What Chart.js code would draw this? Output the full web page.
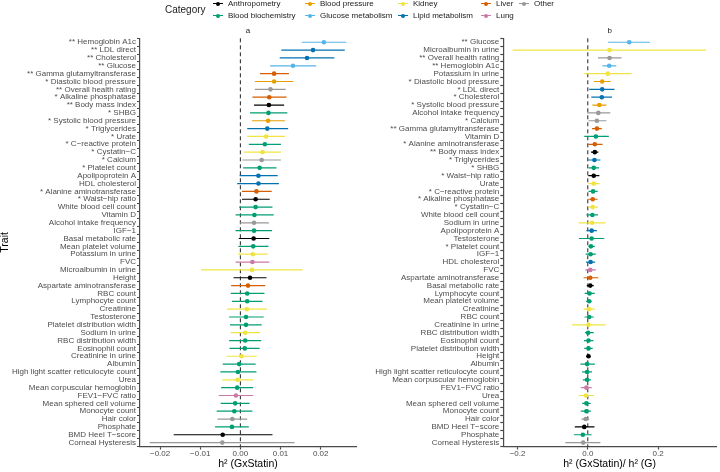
<!DOCTYPE html>
<html>
<head>
<meta charset="utf-8">
<script src="https://cdn.jsdelivr.net/npm/chart.js@4.4.1/dist/chart.umd.min.js"></script>
<style>
  body { margin: 0; background: #fff; font-family: "Liberation Sans", Arial, sans-serif; }
  #wrap { position: relative; width: 720px; height: 472px; overflow: hidden; }
  .panel { position: absolute; top: 0; width: 360px; height: 472px; }
  #legend { position: absolute; left: 0; top: -2.5px; width: 720px; height: 24px; z-index: 2; color: #1a1a1a; }
  #legend .title { position: absolute; left: 165px; top: 5px; font-size: 10px; line-height: 14px; }
  #legend .col { position: absolute; top: 0; display: flex; flex-direction: column; }
  #legend .item { display: flex; align-items: center; height: 12px; font-size: 8px; white-space: nowrap; }
  #legend .key { position: relative; width: 10px; height: 12px; margin-right: 5px; }
  #legend .key .ln { position: absolute; left: 0; right: 0; top: 5.5px; height: 1px; }
  #legend .key .pt { position: absolute; left: 3px; top: 4px; width: 4px; height: 4px; border-radius: 50%; }
</style>
</head>
<body>
<div id="wrap">
  <div id="legend"></div>
  <div class="panel" style="left:0"><canvas id="chartA" width="360" height="472"></canvas></div>
  <div class="panel" style="left:360px"><canvas id="chartB" width="360" height="472"></canvas></div>
</div>
<script>
const categories = ["Anthropometry", "Blood biochemistry", "Blood pressure", "Glucose metabolism",
  "Kidney", "Lipid metabolism", "Liver", "Lung", "Other"];
const categoryColors = ["#000000", "#009E73", "#E69F00", "#56B4E9",
  "#F0E442", "#0072B2", "#D55E00", "#CC79A7", "#999999"];

// panel a: h2 (GxStatin)
const traitsA = ["** Hemoglobin A1c", "** LDL direct", "** Cholesterol", "** Glucose",
  "** Gamma glutamyltransferase", "* Diastolic blood pressure", "** Overall health rating",
  "* Alkaline phosphatase", "** Body mass index", "* SHBG", "* Systolic blood pressure",
  "* Triglycerides", "* Urate", "* C\u2212reactive protein", "* Cystatin\u2212C", "* Calcium",
  "* Platelet count", "Apolipoprotein A", "HDL cholesterol", "* Alanine aminotransferase",
  "* Waist\u2212hip ratio", "White blood cell count", "Vitamin D", "Alcohol intake frequency",
  "IGF\u22121", "Basal metabolic rate", "Mean platelet volume", "Potassium in urine", "FVC",
  "Microalbumin in urine", "Height", "Aspartate aminotransferase", "RBC count",
  "Lymphocyte count", "Creatinine", "Testosterone", "Platelet distribution width",
  "Sodium in urine", "RBC distribution width", "Eosinophil count", "Creatinine in urine",
  "Albumin", "High light scatter reticulocyte count", "Urea", "Mean corpuscular hemoglobin",
  "FEV1\u2212FVC ratio", "Mean sphered cell volume", "Monocyte count", "Hair color",
  "Phosphate", "BMD Heel T\u2212score", "Corneal Hysteresis"];
const catA = ["Glucose metabolism", "Lipid metabolism", "Lipid metabolism", "Glucose metabolism",
  "Liver", "Blood pressure", "Other", "Liver", "Anthropometry", "Blood biochemistry",
  "Blood pressure", "Lipid metabolism", "Kidney", "Blood biochemistry", "Kidney", "Other",
  "Blood biochemistry", "Lipid metabolism", "Lipid metabolism", "Liver", "Anthropometry",
  "Blood biochemistry", "Blood biochemistry", "Other", "Blood biochemistry", "Anthropometry",
  "Blood biochemistry", "Kidney", "Lung", "Kidney", "Anthropometry", "Liver",
  "Blood biochemistry", "Blood biochemistry", "Kidney", "Blood biochemistry",
  "Blood biochemistry", "Kidney", "Blood biochemistry", "Blood biochemistry", "Kidney",
  "Blood biochemistry", "Blood biochemistry", "Kidney", "Blood biochemistry", "Lung",
  "Blood biochemistry", "Blood biochemistry", "Other", "Blood biochemistry", "Anthropometry",
  "Other"];
const estA = [0.0208, 0.0181, 0.0166, 0.0131, 0.0084, 0.0084, 0.0075, 0.0072, 0.0071, 0.0070,
  0.0069, 0.0067, 0.0064, 0.0061, 0.0055, 0.0053, 0.0048, 0.0045, 0.0045, 0.0040, 0.0038,
  0.0038, 0.0035, 0.0034, 0.0034, 0.0033, 0.0032, 0.0031, 0.0030, 0.0029, 0.0024, 0.0019,
  0.0017, 0.0017, 0.0016, 0.0014, 0.0014, 0.0012, 0.0012, 0.0011, 0.0003, -0.0003, -0.0006,
  -0.0007, -0.0008, -0.0011, -0.0013, -0.0015, -0.0020, -0.0021, -0.0044, -0.0045];
const loA = [0.0153, 0.0102, 0.0098, 0.0074, 0.0049, 0.0036, 0.0036, 0.0030, 0.0034, 0.0024,
  0.0029, 0.0017, 0.0017, 0.0021, 0.0008, 0.0005, 0.0007, -0.0002, -0.0008, 0.0004, 0.0004,
  -0.0003, -0.0012, -0.0001, -0.0012, -0.0004, -0.0005, -0.0006, -0.0012, -0.0098, -0.0017,
  -0.0023, -0.0024, -0.0021, -0.0033, -0.0028, -0.0026, -0.0024, -0.0028, -0.0027, -0.0034,
  -0.0044, -0.0050, -0.0045, -0.0048, -0.0054, -0.0049, -0.0059, -0.0057, -0.0063, -0.0166,
  -0.0226];
const hiA = [0.0264, 0.0260, 0.0234, 0.0189, 0.0121, 0.0132, 0.0113, 0.0115, 0.0109, 0.0117,
  0.0111, 0.0119, 0.0111, 0.0101, 0.0101, 0.0101, 0.0090, 0.0093, 0.0096, 0.0078, 0.0073,
  0.0080, 0.0083, 0.0071, 0.0079, 0.0072, 0.0070, 0.0068, 0.0072, 0.0155, 0.0065, 0.0062,
  0.0060, 0.0055, 0.0066, 0.0058, 0.0053, 0.0049, 0.0052, 0.0048, 0.0041, 0.0038, 0.0040,
  0.0032, 0.0032, 0.0032, 0.0023, 0.0030, 0.0017, 0.0021, 0.0080, 0.0135];

// panel b: h2 (GxStatin) / h2 (G)
const traitsB = ["** Glucose", "Microalbumin in urine", "** Overall health rating",
  "** Hemoglobin A1c", "Potassium in urine", "* Diastolic blood pressure", "* LDL direct",
  "* Cholesterol", "* Systolic blood pressure", "Alcohol intake frequency", "* Calcium",
  "** Gamma glutamyltransferase", "Vitamin D", "* Alanine aminotransferase",
  "** Body mass index", "* Triglycerides", "* SHBG", "* Waist\u2212hip ratio", "Urate",
  "* C\u2212reactive protein", "* Alkaline phosphatase", "* Cystatin\u2212C",
  "White blood cell count", "Sodium in urine", "Apolipoprotein A", "Testosterone",
  "* Platelet count", "IGF\u22121", "HDL cholesterol", "FVC", "Aspartate aminotransferase",
  "Basal metabolic rate", "Lymphocyte count", "Mean platelet volume", "Creatinine",
  "RBC count", "Creatinine in urine", "RBC distribution width", "Eosinophil count",
  "Platelet distribution width", "Height", "Albumin", "High light scatter reticulocyte count",
  "Mean corpuscular hemoglobin", "FEV1\u2212FVC ratio", "Urea", "Mean sphered cell volume",
  "Monocyte count", "Hair color", "BMD Heel T\u2212score", "Phosphate", "Corneal Hysteresis"];
const catB = ["Glucose metabolism", "Kidney", "Other", "Glucose metabolism", "Kidney",
  "Blood pressure", "Lipid metabolism", "Lipid metabolism", "Blood pressure", "Other", "Other",
  "Liver", "Blood biochemistry", "Liver", "Anthropometry", "Lipid metabolism",
  "Blood biochemistry", "Anthropometry", "Kidney", "Blood biochemistry", "Liver", "Kidney",
  "Blood biochemistry", "Kidney", "Lipid metabolism", "Blood biochemistry",
  "Blood biochemistry", "Blood biochemistry", "Lipid metabolism", "Lung", "Liver",
  "Anthropometry", "Blood biochemistry", "Blood biochemistry", "Kidney", "Blood biochemistry",
  "Kidney", "Blood biochemistry", "Blood biochemistry", "Blood biochemistry", "Anthropometry",
  "Blood biochemistry", "Blood biochemistry", "Blood biochemistry", "Lung", "Kidney",
  "Blood biochemistry", "Blood biochemistry", "Other", "Anthropometry", "Blood biochemistry",
  "Other"];
const estB = [0.118, 0.062, 0.062, 0.061, 0.057, 0.041, 0.041, 0.040, 0.033, 0.030, 0.026,
  0.026, 0.023, 0.020, 0.020, 0.019, 0.017, 0.017, 0.017, 0.015, 0.014, 0.014, 0.013, 0.012,
  0.011, 0.011, 0.009, 0.008, 0.008, 0.007, 0.007, 0.007, 0.005, 0.004, 0.003, 0.004, 0.002,
  0.001, 0.002, 0.002, 0.002, -0.002, -0.002, -0.002, -0.004, -0.005, -0.004, -0.004, -0.006,
  -0.010, -0.014, -0.013];
const loB = [0.058, -0.214, 0.029, 0.042, -0.010, 0.017, 0.004, 0.010, 0.013, -0.002, 0.002,
  0.012, -0.010, 0.000, 0.009, 0.001, 0.002, 0.000, 0.000, 0.002, 0.000, 0.000, -0.004, -0.026,
  -0.004, -0.025, 0.000, -0.006, -0.005, -0.007, -0.012, -0.003, -0.009, -0.005, -0.012,
  -0.009, -0.045, -0.008, -0.011, -0.010, -0.004, -0.021, -0.016, -0.014, -0.020, -0.026,
  -0.016, -0.020, -0.018, -0.037, -0.039, -0.064];
const hiB = [0.177, 0.337, 0.096, 0.081, 0.125, 0.065, 0.076, 0.069, 0.053, 0.064, 0.053,
  0.040, 0.060, 0.042, 0.030, 0.036, 0.032, 0.033, 0.034, 0.028, 0.028, 0.029, 0.029, 0.051,
  0.026, 0.047, 0.020, 0.023, 0.021, 0.023, 0.030, 0.017, 0.020, 0.011, 0.020, 0.017, 0.051,
  0.017, 0.016, 0.014, 0.008, 0.020, 0.012, 0.009, 0.011, 0.018, 0.008, 0.009, 0.004, 0.019,
  0.011, 0.036];

Chart.defaults.font.family = "'Liberation Sans', Arial, sans-serif";

const AXIS_COLOR = "#4a4a4a";
const TICK_COLOR = "#4D4D4D";

// dashed line at zero and the small panel letter
const panelDecor = {
  id: "panelDecor",
  beforeDatasetsDraw(chart) {
    const { ctx, chartArea, scales } = chart;
    const x = scales.x.getPixelForValue(0);
    ctx.save();
    ctx.strokeStyle = "#222";
    ctx.lineWidth = 1;
    ctx.setLineDash([4, 3]);
    ctx.beginPath();
    ctx.moveTo(x, chartArea.top);
    ctx.lineTo(x, chartArea.bottom);
    ctx.stroke();
    ctx.restore();
  },
  afterDraw(chart, args, opts) {
    const { ctx, chartArea } = chart;
    ctx.save();
    ctx.fillStyle = "#1a1a1a";
    ctx.font = "8px 'Liberation Sans', Arial, sans-serif";
    ctx.textAlign = "center";
    ctx.textBaseline = "middle";
    ctx.fillText(opts.letter, (chartArea.left + chartArea.right) / 2, 31);
    ctx.restore();
  },
};

function makePanel(canvasId, traits, cats, est, lo, hi, cfg) {
  const colors = cats.map((c) => categoryColors[categories.indexOf(c)]);
  const fmt = (v) => (v < -1e-9 ? "\u2212" : "") + Math.abs(v).toFixed(cfg.digits);
  return new Chart(document.getElementById(canvasId), {
    type: "bar",
    data: {
      labels: traits,
      datasets: [
        {
          type: "line",
          indexAxis: "y",
          data: est,
          showLine: false,
          pointRadius: 2.3,
          pointBorderWidth: 0,
          pointBackgroundColor: colors,
          pointBorderColor: colors,
        },
        {
          type: "bar",
          indexAxis: "y",
          data: lo.map((v, i) => [v, hi[i]]),
          backgroundColor: colors,
          barThickness: 1.2,
          inflateAmount: 0,
          borderWidth: 0,
        },
      ],
    },
    options: {
      indexAxis: "y",
      responsive: false,
      animation: false,
      events: [],
      layout: { padding: { top: 38.3, right: cfg.padRight, bottom: 0, left: 0 } },
      plugins: {
        legend: { display: false },
        tooltip: { enabled: false },
        panelDecor: { letter: cfg.letter },
      },
      scales: {
        x: {
          type: "linear",
          min: cfg.min,
          max: cfg.max,
          afterFit(scale) { scale.height = 25.5; },
          border: { color: AXIS_COLOR, width: 1.2 },
          grid: { drawOnChartArea: false, tickLength: 3, color: AXIS_COLOR, tickWidth: 1.2 },
          ticks: {
            stepSize: cfg.step,
            includeBounds: false,
            maxRotation: 0,
            padding: 0,
            color: TICK_COLOR,
            font: { size: 8, lineHeight: 1 },
            callback: fmt,
          },
          title: {
            display: true,
            text: cfg.xTitle,
            color: "#000",
            font: { size: 10.5 },
            padding: { top: 0, bottom: 2 },
          },
        },
        y: {
          type: "category",
          offset: true,
          afterFit(scale) { scale.width = cfg.yWidth; },
          border: { color: AXIS_COLOR, width: 1.2 },
          grid: { drawOnChartArea: false, tickLength: 3, color: AXIS_COLOR, tickWidth: 1.2 },
          ticks: { autoSkip: false, padding: 1, color: TICK_COLOR, font: { size: 8 } },
          title: {
            display: !!cfg.yTitle,
            text: cfg.yTitle,
            color: "#000",
            font: { size: 10.5, lineHeight: 1 },
            padding: 0,
          },
        },
      },
    },
    plugins: [panelDecor],
  });
}

makePanel("chartA", traitsA, catA, estA, loA, hiA, {
  min: -0.025, max: 0.0288, step: 0.01, digits: 2, yWidth: 140, padRight: 3.4,
  xTitle: "h\u00B2 (GxStatin)", yTitle: "Trait", letter: "a",
});
makePanel("chartB", traitsB, catB, estB, loB, hiB, {
  min: -0.2405, max: 0.365, step: 0.2, digits: 1, yWidth: 143.3, padRight: 0,
  xTitle: "h\u00B2 (GxStatin)/ h\u00B2 (G)", yTitle: "", letter: "b",
});

// legend: title, then columns of two keys each (filled column-wise like ggplot)
const legendColumnLeft = [213, 305, 398, 481, 519];
const legend = document.getElementById("legend");
const title = document.createElement("div");
title.className = "title";
title.textContent = "Category";
legend.appendChild(title);
for (let c = 0; c < categories.length; c += 2) {
  const col = document.createElement("div");
  col.className = "col";
  col.style.left = legendColumnLeft[c / 2] + "px";
  for (let i = c; i < Math.min(c + 2, categories.length); i++) {
    const item = document.createElement("div");
    item.className = "item";
    item.innerHTML = '<span class="key"><span class="ln"></span><span class="pt"></span></span>';
    item.querySelector(".ln").style.background = categoryColors[i];
    item.querySelector(".pt").style.background = categoryColors[i];
    item.appendChild(document.createTextNode(categories[i]));
    col.appendChild(item);
  }
  legend.appendChild(col);
}
</script>
</body>
</html>
